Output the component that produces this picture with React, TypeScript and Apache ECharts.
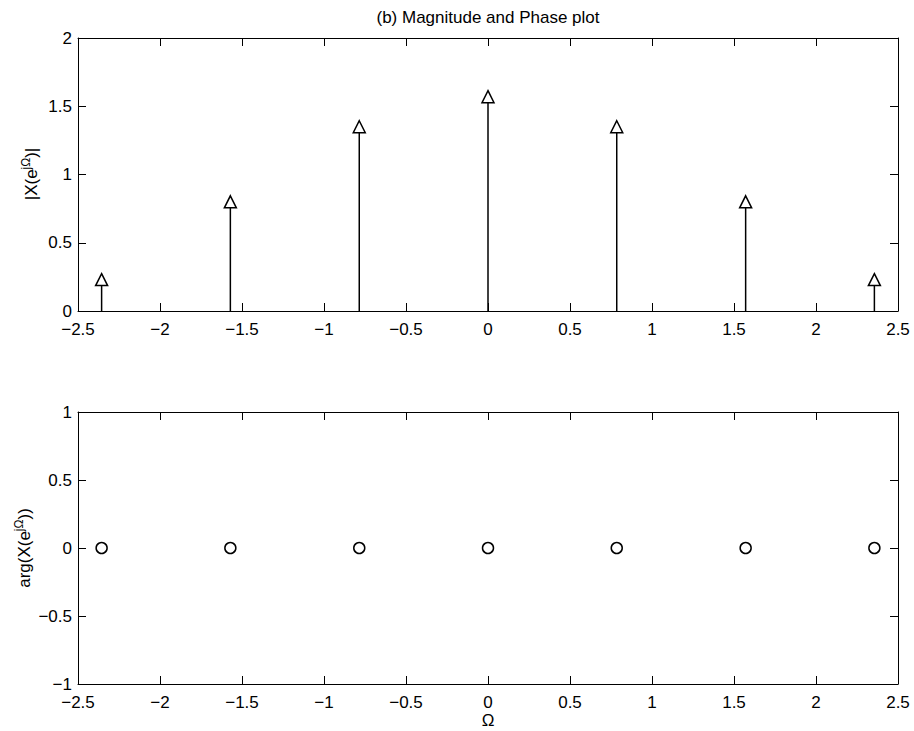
import React, { useEffect, useRef } from 'react';
import * as echarts from 'echarts';

const omega = [-2.356, -1.571, -0.785, 0, 0.785, 1.571, 2.356];
const magnitude = [0.23, 0.8, 1.35, 1.57, 1.35, 0.8, 0.23];
const phase = [0, 0, 0, 0, 0, 0, 0];
const xRange = [-2.5, 2.5];
const magRange = [0, 2];
const phaseRange = [-1, 1];
const tickStep = 0.5;

const titleText = '(b) Magnitude and Phase plot';
const xName = 'Ω';

const FONT = '"Liberation Sans", Arial, Helvetica, sans-serif';
const FS = 17;
const fmt = (v: number) => (v < 0 ? '\u2212' : '') + String(Math.abs(v));

const lineStyle = { color: '#000', width: 1 };
const tick = { show: true, inside: true, length: 8, lineStyle: { color: '#000', width: 1 } };
const label = { color: '#000', fontSize: FS, fontFamily: FONT, margin: 10, formatter: fmt };

function xAxes(gridIndex: number, withName: boolean) {
  return [
    {
      type: 'value', gridIndex, min: xRange[0], max: xRange[1], interval: tickStep, position: 'bottom',
      axisLine: { show: true, onZero: false, lineStyle }, axisTick: tick, axisLabel: label,
      splitLine: { show: false },
      name: withName ? xName : '', nameLocation: 'middle', nameGap: 28,
      nameTextStyle: { color: '#000', fontSize: FS, fontFamily: FONT },
    },
    {
      type: 'value', gridIndex, min: xRange[0], max: xRange[1], interval: tickStep, position: 'top',
      axisLine: { show: true, onZero: false, lineStyle }, axisTick: tick, axisLabel: { show: false },
      splitLine: { show: false },
    },
  ];
}

function yAxes(gridIndex: number, range: number[]) {
  return [
    {
      type: 'value', gridIndex, min: range[0], max: range[1], interval: tickStep, position: 'left',
      axisLine: { show: true, onZero: false, lineStyle }, axisTick: tick, axisLabel: { ...label, margin: 6 },
      splitLine: { show: false },
    },
    {
      type: 'value', gridIndex, min: range[0], max: range[1], interval: tickStep, position: 'right',
      axisLine: { show: true, onZero: false, lineStyle }, axisTick: tick, axisLabel: { show: false },
      splitLine: { show: false },
    },
  ];
}

const stemRender = (params: any, api: any) => {
  const p0 = api.coord([api.value(0), 0]);
  const p1 = api.coord([api.value(0), api.value(1)]);
  return {
    type: 'line',
    shape: { x1: p0[0], y1: p0[1], x2: p1[0], y2: p1[1] },
    style: { stroke: '#000', lineWidth: 1.5 },
  };
};

const rich = {
  a: { fontSize: FS, fontFamily: FONT, color: '#000' },
  s: { fontSize: 12, fontFamily: FONT, color: '#000', padding: [0, 0, 10, 0] },
};

export default function App() {
  const ref = useRef<HTMLDivElement>(null);
  useEffect(() => {
    if (!ref.current) return;
    const chart = echarts.init(ref.current, undefined, { renderer: 'svg' });
    const magData = omega.map((x, i) => [x, magnitude[i]]);
    const phaseData = omega.map((x, i) => [x, phase[i]]);
    chart.setOption({
      animation: false,
      backgroundColor: '#fff',
      grid: [
        { left: 78, top: 38, width: 820, height: 273 },
        { left: 78, top: 412, width: 820, height: 272 },
      ],
      xAxis: [...xAxes(0, false), ...xAxes(1, true)],
      yAxis: [...yAxes(0, magRange), ...yAxes(1, phaseRange)],
      graphic: [
        {
          type: 'text', x: 488, y: 17,
          style: { text: titleText, fontSize: FS, fontFamily: FONT, fill: '#000', align: 'center', verticalAlign: 'middle' },
        },
        {
          type: 'text', x: 31, y: 174, rotation: Math.PI / 2,
          style: { text: '{a||X(e}{s|jΩ}{a|)|}', rich, align: 'center', verticalAlign: 'middle', fill: '#000' },
        },
        {
          type: 'text', x: 24, y: 548, rotation: Math.PI / 2,
          style: { text: '{a|arg(X(e}{s|jΩ}{a|))}', rich, align: 'center', verticalAlign: 'middle', fill: '#000' },
        },
      ],
      series: [
        {
          type: 'custom', xAxisIndex: 0, yAxisIndex: 0, data: magData, renderItem: stemRender, z: 2, silent: true,
        },
        {
          type: 'scatter', xAxisIndex: 0, yAxisIndex: 0, data: magData, symbol: 'triangle', symbolSize: 12, z: 3,
          itemStyle: { color: '#fff', borderColor: '#000', borderWidth: 1.5, opacity: 1 },
        },
        {
          type: 'custom', xAxisIndex: 2, yAxisIndex: 2, data: phaseData, renderItem: stemRender, z: 2, silent: true,
        },
        {
          type: 'scatter', xAxisIndex: 2, yAxisIndex: 2, data: phaseData, symbol: 'circle', symbolSize: 11, z: 3,
          itemStyle: { color: '#fff', borderColor: '#000', borderWidth: 1.5, opacity: 1 },
        },
      ],
    });
    return () => chart.dispose();
  }, []);
  return (
    <div
      ref={ref}
      style={{ position: 'fixed', left: 0, top: 0, width: 914, height: 731, background: '#fff' }}
    />
  );
}
